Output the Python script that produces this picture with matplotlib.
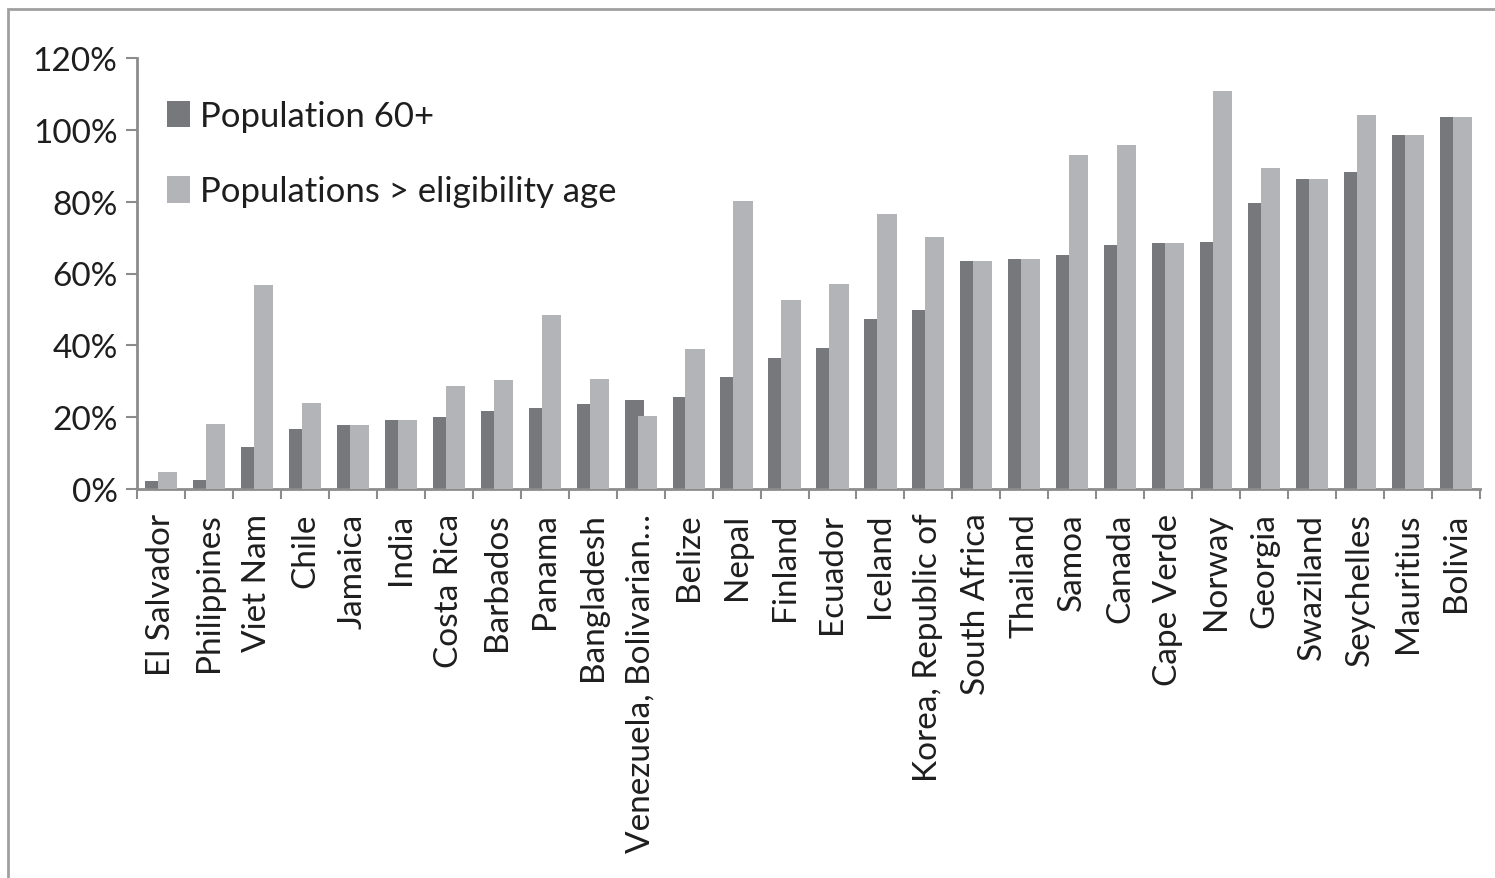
import matplotlib.pyplot as plt
import numpy as np
from matplotlib.patches import Rectangle
from matplotlib.ticker import FuncFormatter, MultipleLocator

plt.rcParams['font.family'] = ['Lato', 'DejaVu Sans']

countries = ["El Salvador", "Philippines", "Viet Nam", "Chile", "Jamaica", "India",
             "Costa Rica", "Barbados", "Panama", "Bangladesh", "Venezuela, Bolivarian\u2026",
             "Belize", "Nepal", "Finland", "Ecuador", "Iceland", "Korea, Republic of",
             "South Africa", "Thailand", "Samoa", "Canada", "Cape Verde", "Norway",
             "Georgia", "Swaziland", "Seychelles", "Mauritius", "Bolivia"]

# coverage ratios, in percent
pop_60 = [2.2, 2.5, 11.7, 16.7, 17.8, 19.2, 20.0, 21.7, 22.5, 23.7, 24.8,
          25.6, 31.3, 36.4, 39.3, 47.4, 49.7, 63.4, 64.0, 65.2, 68.0, 68.4,
          68.9, 79.7, 86.2, 88.3, 98.7, 103.6]
pop_elig = [4.7, 18.0, 56.8, 24.0, 17.8, 19.2, 28.7, 30.3, 48.4, 30.6, 20.3,
            39.0, 80.3, 52.5, 57.1, 76.7, 70.2, 63.4, 64.0, 92.9, 95.9, 68.4,
            110.8, 89.4, 86.2, 104.0, 98.7, 103.6]

DARK = '#77787b'
LIGHT = '#b3b4b7'
AXC = '#8c8c8c'
TXT = '#1e1e1e'

fig = plt.figure(figsize=(14.95, 8.79), dpi=100)
ax = fig.add_axes([137/1495, 1-490/879, (1480-137)/1495, (490-59)/879])

x = np.arange(len(countries))
w = 0.40
off = 0.135
ax.bar(x - off, pop_60, width=w, color=DARK, zorder=2, label='Population 60+')
ax.bar(x + off, pop_elig, width=w, color=LIGHT, zorder=3, label='Populations > eligibility age')

ax.set_xlim(-0.5, len(countries) - 0.5)
ax.set_ylim(0, 120)
ax.yaxis.set_major_locator(MultipleLocator(20))
ax.yaxis.set_major_formatter(FuncFormatter(lambda v, p: '%d%%' % v))

ax.set_xticks(x)
ax.set_xticklabels(countries, rotation=90)
ax.set_xticks(np.arange(len(countries) + 1) - 0.5, minor=True)
ax.tick_params(axis='x', which='major', length=0, pad=17, labelsize=24, labelcolor=TXT)
ax.tick_params(axis='x', which='minor', length=7, width=1.5, color=AXC, direction='out')
ax.tick_params(axis='y', length=8, width=1.5, color=AXC, direction='out', pad=6,
               labelsize=24, labelcolor=TXT)

for s in ['top', 'right']:
    ax.spines[s].set_visible(False)
for s in ['left', 'bottom']:
    ax.spines[s].set_color(AXC)
    ax.spines[s].set_linewidth(2)

leg = ax.legend(loc='upper left', bbox_to_anchor=(0.012, 0.935), frameon=False,
                fontsize=25, handlelength=0.65, handleheight=0.8, handletextpad=0.3,
                labelspacing=1.25, labelcolor=TXT, borderaxespad=0)

# outer chart frame, running off the right and bottom edges
fig.patches.append(Rectangle((8/1495, -0.1), 1.2, 1 - 10/879 + 0.1,
                             transform=fig.transFigure, fill=False,
                             edgecolor='#a0a0a0', linewidth=2))

fig.savefig('out.png', dpi=100, facecolor='white')
